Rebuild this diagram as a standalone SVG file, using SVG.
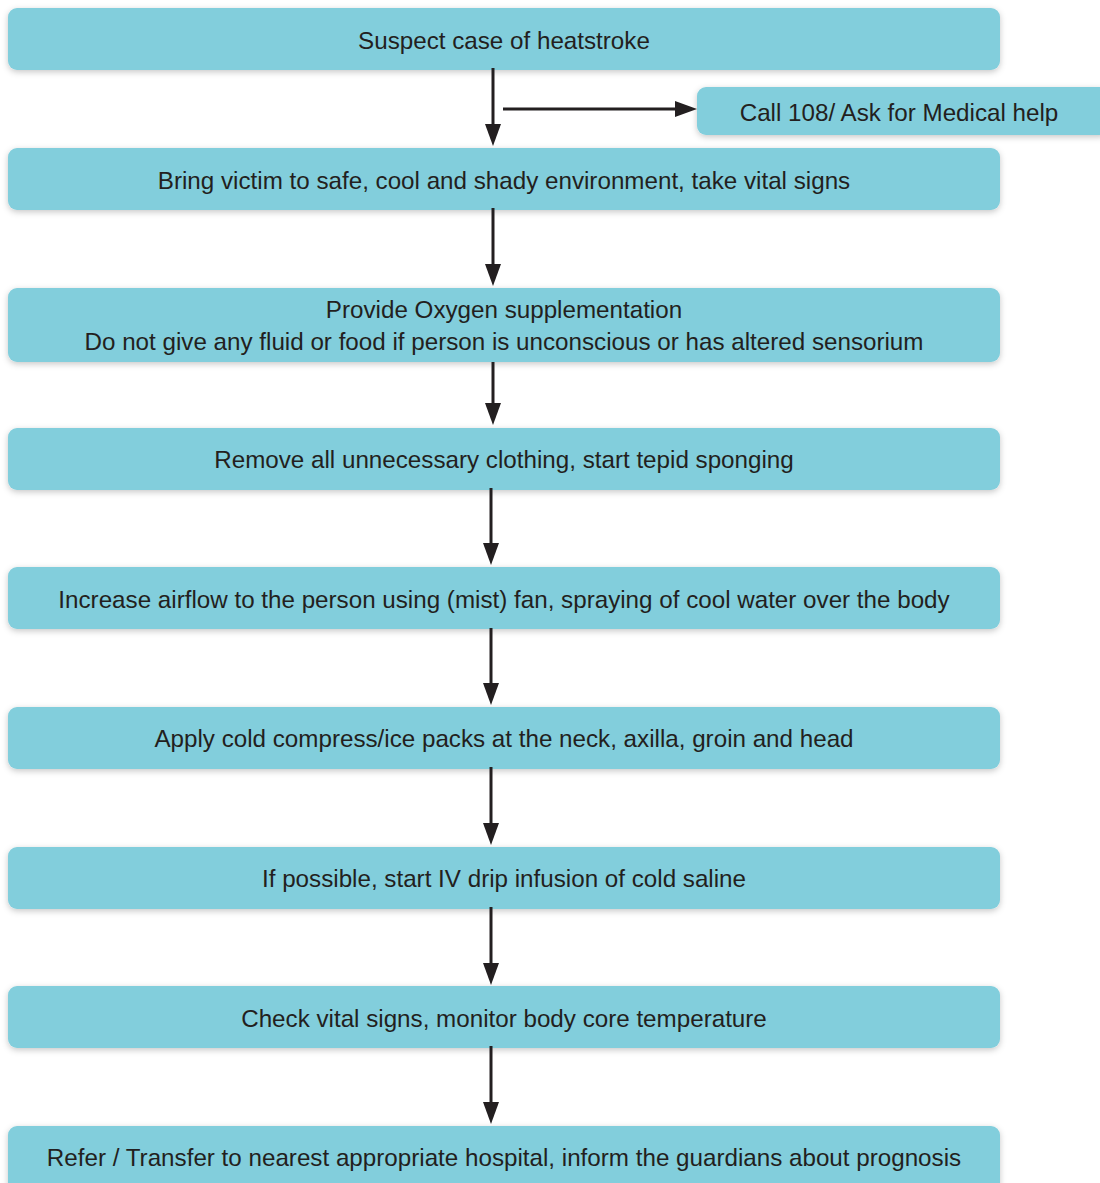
<svg xmlns="http://www.w3.org/2000/svg" width="1100" height="1183" viewBox="0 0 1100 1183">
<defs>
<filter id="sh" x="-5%" y="-20%" width="110%" height="150%">
<feDropShadow dx="0" dy="2" stdDeviation="3" flood-color="#000" flood-opacity="0.22"/>
</filter>
</defs>
<style>
.box{fill:#82cedc;filter:url(#sh);}
.t{font-family:"Liberation Sans",Arial,sans-serif;font-size:24.2px;fill:#231f20;text-anchor:middle;}
.c{stroke:#231f20;stroke-width:3;fill:none;}
.h{fill:#231f20;}
</style>
<rect width="1100" height="1183" fill="#fff"/>
<g id="n1"><rect class="box" x="8" y="8" width="992" height="62" rx="9"/><text class="t" x="504" y="49">Suspect case of heatstroke</text></g>
<g id="n_call"><rect class="box" x="697" y="87" width="412" height="48" rx="9"/><text class="t" x="899" y="121">Call 108/ Ask for Medical help</text></g>
<g id="n2"><rect class="box" x="8" y="148" width="992" height="62" rx="9"/><text class="t" x="504" y="189">Bring victim to safe, cool and shady environment, take vital signs</text></g>
<g id="n3"><rect class="box" x="8" y="288" width="992" height="74" rx="9"/><text class="t" x="504" y="318">Provide Oxygen supplementation</text><text class="t" x="504" y="350">Do not give any fluid or food if person is unconscious or has altered sensorium</text></g>
<g id="n4"><rect class="box" x="8" y="428" width="992" height="62" rx="9"/><text class="t" x="504" y="468">Remove all unnecessary clothing, start tepid sponging</text></g>
<g id="n5"><rect class="box" x="8" y="567" width="992" height="62" rx="9"/><text class="t" x="504" y="608">Increase airflow to the person using (mist) fan, spraying of cool water over the body</text></g>
<g id="n6"><rect class="box" x="8" y="707" width="992" height="62" rx="9"/><text class="t" x="504" y="747">Apply cold compress/ice packs at the neck, axilla, groin and head</text></g>
<g id="n7"><rect class="box" x="8" y="847" width="992" height="62" rx="9"/><text class="t" x="504" y="887">If possible, start IV drip infusion of cold saline</text></g>
<g id="n8"><rect class="box" x="8" y="986" width="992" height="62" rx="9"/><text class="t" x="504" y="1027">Check vital signs, monitor body core temperature</text></g>
<g id="n9"><rect class="box" x="8" y="1126" width="992" height="70" rx="9"/><text class="t" x="504" y="1166">Refer / Transfer to nearest appropriate hospital, inform the guardians about prognosis</text></g>
<g id="connectors">
<line class="c" x1="493" y1="68" x2="493" y2="124"/><path class="h" d="M485,124 L501,124 L493,146 Z"/>
<line class="c" x1="503" y1="109" x2="675" y2="109"/><path class="h" d="M675,101 L697,109 L675,117 Z"/>
<line class="c" x1="493" y1="208" x2="493" y2="264"/><path class="h" d="M485,264 L501,264 L493,286 Z"/>
<line class="c" x1="493" y1="362" x2="493" y2="403"/><path class="h" d="M485,403 L501,403 L493,425 Z"/>
<line class="c" x1="491" y1="488" x2="491" y2="543"/><path class="h" d="M483,543 L499,543 L491,565 Z"/>
<line class="c" x1="491" y1="628" x2="491" y2="683"/><path class="h" d="M483,683 L499,683 L491,705 Z"/>
<line class="c" x1="491" y1="767" x2="491" y2="823"/><path class="h" d="M483,823 L499,823 L491,845 Z"/>
<line class="c" x1="491" y1="907" x2="491" y2="963"/><path class="h" d="M483,963 L499,963 L491,985 Z"/>
<line class="c" x1="491" y1="1046" x2="491" y2="1102"/><path class="h" d="M483,1102 L499,1102 L491,1124 Z"/>
</g>
</svg>
